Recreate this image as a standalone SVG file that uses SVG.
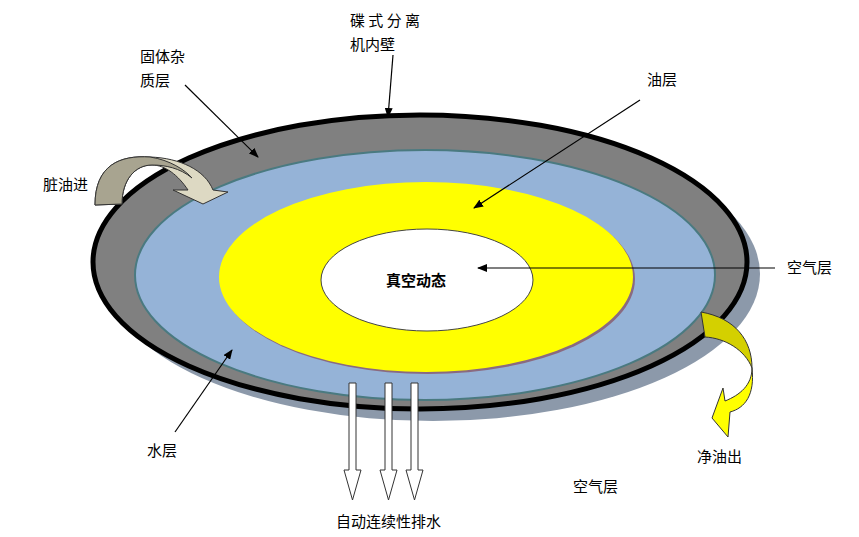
<svg xmlns="http://www.w3.org/2000/svg" width="859" height="537" viewBox="0 0 859 537">
<style>
text{font-family:"Noto Sans CJK SC","Noto Sans",sans-serif;font-size:15px;fill:#000}
.ln{stroke:#000;stroke-width:1.2;fill:none;marker-end:url(#ah)}
.ba{fill:#fff;stroke:#333;stroke-width:1}
</style>
<defs><marker id="ah" markerWidth="10" markerHeight="8" refX="9" refY="4" orient="auto" markerUnits="userSpaceOnUse"><path d="M0,0 L10,4 L0,8 Z" fill="#000"/></marker></defs>
<rect width="859" height="537" fill="#fff"/>
<g id="disc">
<ellipse cx="433" cy="274" rx="327" ry="147" fill="#8c99aa"/>
<ellipse cx="420" cy="262" rx="327" ry="147" fill="#808080" stroke="#000" stroke-width="5"/>
<ellipse cx="425" cy="275" rx="290" ry="125" fill="#95b3d7" stroke="#4a7a80" stroke-width="2"/>
<ellipse cx="428" cy="279" rx="207" ry="95" fill="#8a6a80"/>
<ellipse cx="426" cy="277" rx="207" ry="95" fill="#ffff00"/>
<ellipse cx="427" cy="280" rx="106" ry="51" fill="#fff" stroke="#444" stroke-width="1"/>
<text x="416" y="286" text-anchor="middle" font-weight="bold">真空动态</text>
</g>
<g id="inlet">
<path d="M95,205 C95,165 120,155 150,157 C180,158 205,170 213,190 L228,192 L203,204 L173,190 L188,190 C178,175 165,165 152,165 C135,165 122,180 122,204 Z" fill="#ddd9c3" stroke="#333" stroke-width="1"/>
<path d="M95,205 C95,165 120,155 150,157 C170,160 185,170 192,178 C180,168 165,165 152,165 C135,165 122,180 122,204 Z" fill="#a8a490" stroke="#333" stroke-width="1"/>
</g>
<g id="outlet">
<path d="M752,368 C755,395 745,408 730,412 L728,437 L712,418 L723,388 L725,401 C740,395 752,385 752,368 Z" fill="#ffff00" stroke="#333" stroke-width="1"/>
<path d="M701,312 C735,318 752,340 752,368 C745,350 725,338 705,337 Z" fill="#d4d000" stroke="#333" stroke-width="1"/>
</g>
<g id="drains">
<path class="ba" d="M349,383 h7 v87 h5 l-8.5,30 l-8.5,-30 h5 Z"/>
<path class="ba" d="M385,383 h7 v87 h5 l-8.5,30 l-8.5,-30 h5 Z"/>
<path class="ba" d="M411,383 h7 v87 h5 l-8.5,30 l-8.5,-30 h5 Z"/>
</g>
<g id="connectors">
<line class="ln" x1="185" y1="85" x2="258" y2="157"/>
<line class="ln" x1="393" y1="55" x2="388" y2="117"/>
<line class="ln" x1="640" y1="100" x2="474" y2="208"/>
<line class="ln" x1="775" y1="268" x2="478" y2="268"/>
<line class="ln" x1="175" y1="432" x2="232" y2="350"/>
</g>
<g id="labels">
<text x="350" y="26">碟 式 分 离</text>
<text x="350" y="50">机内壁</text>
<text x="140" y="62">固体杂</text>
<text x="140" y="86">质层</text>
<text x="647" y="85">油层</text>
<text x="43" y="190">脏油进</text>
<text x="787" y="273">空气层</text>
<text x="147" y="456">水层</text>
<text x="697" y="462">净油出</text>
<text x="573" y="492">空气层</text>
<text x="336" y="527">自动连续性排水</text>
</g>
</svg>
